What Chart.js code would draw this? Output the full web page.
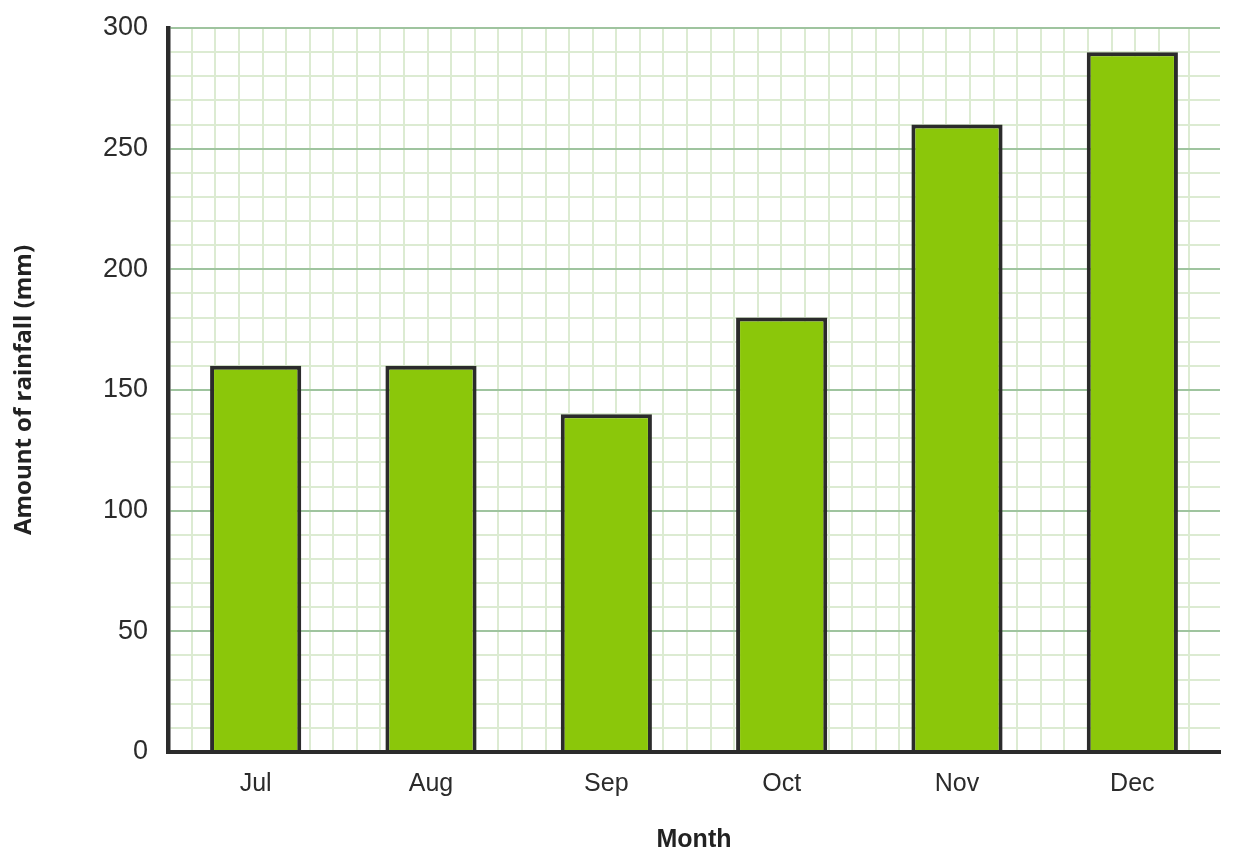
<!DOCTYPE html>
<html>
<head>
<meta charset="utf-8">
<script src="https://cdn.jsdelivr.net/npm/chart.js@4/dist/chart.umd.min.js"></script>
<style>
html,body{margin:0;padding:0;background:#fff;}
#wrap{width:1238px;height:866px;position:relative;}
</style>
</head>
<body>
<div id="wrap"><canvas id="c" width="1238" height="866"></canvas></div>
<script>
const months = ['Jul', 'Aug', 'Sep', 'Oct', 'Nov', 'Dec'];
const rainfall = [160, 160, 140, 180, 260, 290];
const yMin = 0, yMax = 300, yMinorStep = 10, yMajorStep = 50;
const xTitle = 'Month';
const yTitle = 'Amount of rainfall (mm)';

const TEXT = '#2b2b2b';
const MAJOR = '#9fc49f';
const MINOR = '#dcebd2';

new Chart(document.getElementById('c'), {
  type: 'bar',
  data: {
    labels: months,
    datasets: [{
      data: rainfall,
      backgroundColor: '#8bc70a',
      borderColor: '#2b2b2b',
      borderWidth: 4,
      borderSkipped: 'bottom',
      barPercentage: 0.52,
      categoryPercentage: 1
    }]
  },
  options: {
    responsive: false,
    animation: false,
    devicePixelRatio: 1,
    layout: { padding: { left: 10, top: 28, right: 18, bottom: 0 } },
    plugins: { legend: { display: false }, tooltip: { enabled: false } },
    scales: {
      x: {
        type: 'category',
        position: 'bottom',
        grid: { display: false, drawTicks: false },
        border: { display: true, color: '#2b2b2b', width: 4, z: 1 },
        ticks: { color: TEXT, font: { family: 'Liberation Sans', size: 25 }, padding: 17 },
        title: { display: true, text: xTitle, color: '#222', font: { family: 'Liberation Sans', size: 25, weight: 'bold' }, padding: { top: 4, bottom: 11 } },
        afterFit: s => { s.height = 866 - 752; s.paddingLeft = 0; s.paddingRight = 0; }
      },
      x2: {
        type: 'linear',
        position: 'top',
        min: 0,
        max: 1052 / (724 / 30),
        z: -1,
        grid: { display: true, color: MINOR, lineWidth: 2, drawTicks: false },
        border: { display: false },
        ticks: { display: false, stepSize: 1, autoSkip: false, maxTicksLimit: 100 },
        afterFit: s => { s.height = 0; s.paddingLeft = 0; s.paddingRight = 0; }
      },
      y: {
        type: 'linear',
        min: yMin,
        max: yMax,
        grid: {
          drawTicks: false,
          lineWidth: 2,
          color: ctx => (ctx.tick && ctx.tick.value % yMajorStep === 0) ? MAJOR : MINOR
        },
        border: { display: true, color: '#2b2b2b', width: 4.5, z: 1 },
        ticks: {
          stepSize: yMinorStep,
          autoSkip: false,
          color: TEXT,
          padding: 20,
          font: { family: 'Liberation Sans', size: 27 },
          callback: v => (v % yMajorStep === 0) ? String(v) : ''
        },
        title: { display: true, text: yTitle, color: '#222', font: { family: 'Open Sans', size: 24, weight: 'bold' }, padding: { top: 0, bottom: 50 } },
        afterFit: s => { s.width = 158; s.paddingTop = 0; s.paddingBottom = 0; }
      }
    }
  }
});
</script>
</body>
</html>
